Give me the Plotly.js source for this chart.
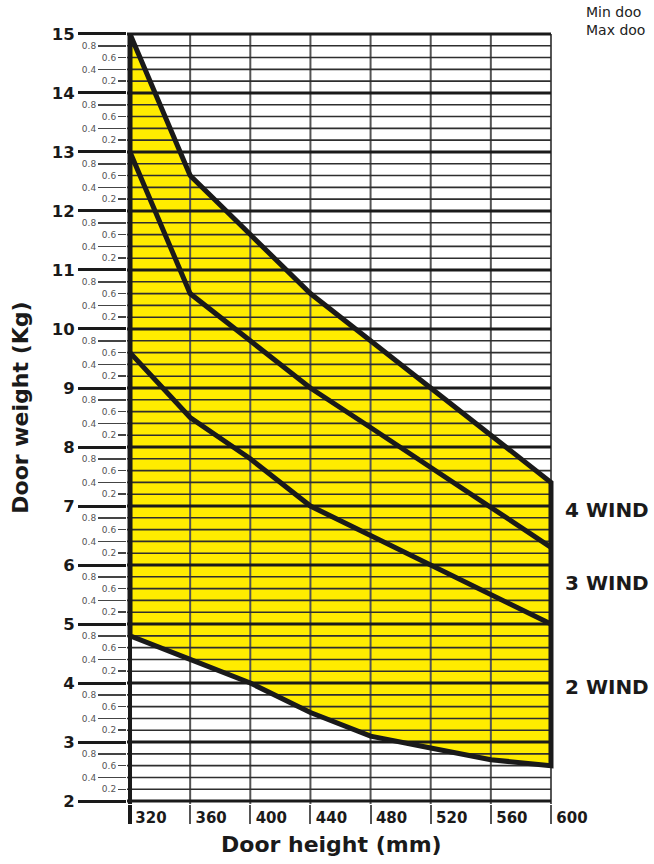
<!DOCTYPE html>
<html><head><meta charset="utf-8">
<script src="https://cdn.plot.ly/plotly-3.0.1.min.js"></script>
<style>html,body{margin:0;padding:0;background:#fff;}#chart{width:654px;height:864px;}</style>
</head><body><div id="chart"></div>
<script>
// ---- data ----
const doorHeight = [320, 360, 400, 440, 480, 520, 560, 600];
const maxWeight4 = [15.0, 12.6, 11.6, 10.6, 9.8, 9.0, 8.2, 7.4];
const maxWeight3 = [13.0, 10.6, 9.8, 9.0, 8.33, 7.65, 6.98, 6.3];
const maxWeight2 = [9.6, 8.5, 7.8, 7.0, 6.5, 6.0, 5.5, 5.0];
const minWeight  = [4.8, 4.4, 4.0, 3.5, 3.1, 2.9, 2.7, 2.6];
const xTickLabels = ['320', '360', '400', '440', '480', '520', '560', '600'];
const yMajorTicks = [2, 3, 4, 5, 6, 7, 8, 9, 10, 11, 12, 13, 14, 15];
const fractionsA = [0.8, 0.4];
const fractionsB = [0.6, 0.2];
const windLabels = ['4 WIND', '3 WIND', '2 WIND'];
const noteLines = ['Min doo', 'Max doo'];

// ---- helpers ----
const xr = [318, 602];
const yr = [1.95, 15.05];
const xEnd = doorHeight[doorHeight.length - 1];
const yTop = yMajorTicks[yMajorTicks.length - 1];
function minorVals(fr) {
  const v = [];
  yMajorTicks.slice(0, -1).forEach(m => fr.forEach(f => v.push(Math.round((m + f) * 10) / 10)));
  return v;
}
const minorA = minorVals(fractionsA);
const minorB = minorVals(fractionsB);
const fracLabel = v => (Math.round((v - Math.floor(v)) * 10) / 10).toFixed(1);
function hSegs(vals) {
  const x = [], y = [];
  vals.forEach(v => { x.push(xr[0], xEnd, null); y.push(v, v, null); });
  return {x, y};
}
function vSegs(vals) {
  const x = [], y = [];
  vals.forEach(v => { x.push(v, v, null); y.push(yr[0], yTop, null); });
  return {x, y};
}
const polyX = doorHeight.concat(doorHeight.slice().reverse());
const polyY = maxWeight4.concat(minWeight.slice().reverse());
const FONT = 'DejaVu Sans';
const base = {type: 'scatter', mode: 'lines', hoverinfo: 'skip', showlegend: false};

const hMinor = hSegs(minorA.concat(minorB));
const hMajor = hSegs(yMajorTicks);
const vGrid = vSegs(doorHeight.slice(1));

const traces = [
  Object.assign({}, base, {x: polyX, y: polyY, fill: 'toself', fillcolor: '#FFEC00', line: {width: 0}}),
  Object.assign({}, base, {x: vGrid.x, y: vGrid.y, line: {color: '#555', width: 2}}),
  Object.assign({}, base, {x: hMinor.x, y: hMinor.y, line: {color: '#2e2e2e', width: 1.6}}),
  Object.assign({}, base, {x: hMajor.x, y: hMajor.y, line: {color: '#1a1a1a', width: 3}}),
  Object.assign({}, base, {x: [doorHeight[0], doorHeight[0]], y: [yr[0], yTop], line: {color: '#1a1a1a', width: 4}}),
  Object.assign({}, base, {x: polyX.concat([polyX[0]]), y: polyY.concat([polyY[0]]), line: {color: '#1a1a1a', width: 5}}),
  Object.assign({}, base, {x: doorHeight, y: maxWeight3, line: {color: '#1a1a1a', width: 5}}),
  Object.assign({}, base, {x: doorHeight, y: maxWeight2, line: {color: '#1a1a1a', width: 5}}),
  Object.assign({}, base, {x: [], y: [], xaxis: 'x', yaxis: 'y2'}),
  Object.assign({}, base, {x: [], y: [], xaxis: 'x', yaxis: 'y3'}),
  Object.assign({}, base, {x: [], y: [], xaxis: 'x2', yaxis: 'y'}),
  Object.assign({}, base, {x: [], y: [], xaxis: 'x3', yaxis: 'y'})
];

const axCommon = {showgrid: false, zeroline: false, showline: false, fixedrange: true};
const layout = {
  width: 654, height: 864,
  margin: {l: 127, r: 100, t: 31, b: 60, pad: 0},
  paper_bgcolor: '#fff', plot_bgcolor: '#fff',
  showlegend: false, hovermode: false,
  xaxis: Object.assign({}, axCommon, {range: xr, tickmode: 'array', tickvals: doorHeight, showticklabels: false,
    ticks: 'outside', ticklen: 19, tickwidth: 2, tickcolor: '#555'}),
  xaxis2: Object.assign({}, axCommon, {range: xr, overlaying: 'x', anchor: 'y', side: 'bottom', tickmode: 'array',
    tickvals: doorHeight, ticktext: xTickLabels, ticks: '', ticklabelshift: 21, ticklabelstandoff: 3,
    tickfont: {family: FONT, size: 15, weight: 'bold', color: '#1a1a1a'}}),
  xaxis3: Object.assign({}, axCommon, {range: xr, overlaying: 'x', anchor: 'y', side: 'bottom', tickmode: 'array',
    tickvals: [doorHeight[0]], showticklabels: false, ticks: 'outside', ticklen: 19, tickwidth: 3.5, tickcolor: '#1a1a1a'}),
  yaxis: Object.assign({}, axCommon, {range: yr, tickmode: 'array', tickvals: yMajorTicks, ticktext: yMajorTicks.map(String),
    ticks: 'outside', ticklen: 48, tickwidth: 3, tickcolor: '#1a1a1a', ticklabelstandoff: 0,
    tickfont: {family: FONT, size: 16.5, weight: 'bold', color: '#1a1a1a'}}),
  yaxis2: Object.assign({}, axCommon, {range: yr, overlaying: 'y', anchor: 'x', side: 'left', tickmode: 'array',
    tickvals: minorA, ticktext: minorA.map(fracLabel), ticks: 'outside', ticklen: 28, tickwidth: 1.5, tickcolor: '#444',
    tickfont: {family: FONT, size: 9, color: '#555'}}),
  yaxis3: Object.assign({}, axCommon, {range: yr, overlaying: 'y', anchor: 'x', side: 'left', tickmode: 'array',
    tickvals: minorB, ticktext: minorB.map(fracLabel), ticks: 'outside', ticklen: 8, tickwidth: 1.5, tickcolor: '#444',
    tickfont: {family: FONT, size: 9, color: '#555'}}),
  annotations: [
    {xref: 'paper', yref: 'paper', x: 0.478, y: -0.053, xanchor: 'center', yanchor: 'middle', showarrow: false,
      text: 'Door height (mm)', font: {family: FONT, size: 22, weight: 'bold', color: '#1a1a1a'}},
    {xref: 'paper', yref: 'paper', x: -0.25, y: 0.513, xanchor: 'center', yanchor: 'middle', showarrow: false, textangle: -90,
      text: 'Door weight (Kg)', font: {family: FONT, size: 22, weight: 'bold', color: '#1a1a1a'}},
    {xref: 'x', yref: 'y', x: xEnd, y: 6.93, xshift: 12, xanchor: 'left', yanchor: 'middle', showarrow: false,
      text: windLabels[0], font: {family: FONT, size: 20, weight: 'bold', color: '#1a1a1a'}},
    {xref: 'x', yref: 'y', x: xEnd, y: 5.69, xshift: 12, xanchor: 'left', yanchor: 'middle', showarrow: false,
      text: windLabels[1], font: {family: FONT, size: 20, weight: 'bold', color: '#1a1a1a'}},
    {xref: 'x', yref: 'y', x: xEnd, y: 3.93, xshift: 12, xanchor: 'left', yanchor: 'middle', showarrow: false,
      text: windLabels[2], font: {family: FONT, size: 20, weight: 'bold', color: '#1a1a1a'}},
    {xref: 'paper', yref: 'paper', x: 1.07, y: 1.013, xanchor: 'left', yanchor: 'middle', align: 'left', showarrow: false,
      text: noteLines.join('<br>'), font: {family: FONT, size: 14, color: '#222'}}
  ]
};
Plotly.newPlot('chart', traces, layout, {staticPlot: true, displayModeBar: false});
</script></body></html>
